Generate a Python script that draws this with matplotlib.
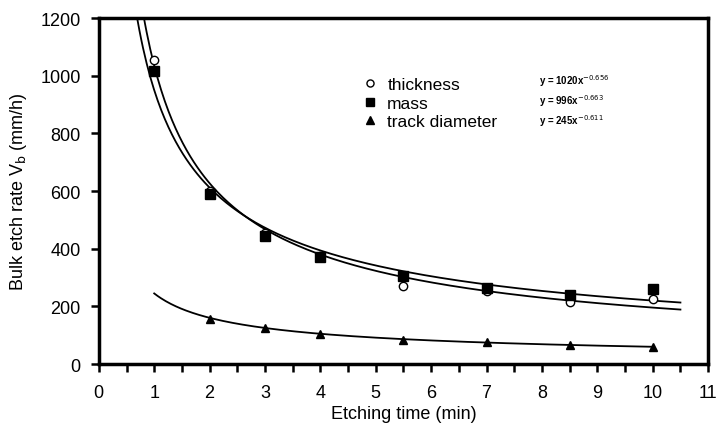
import numpy as np
import matplotlib
matplotlib.use("Agg")
import matplotlib.pyplot as plt

plt.rcParams['font.family'] = ['Liberation Sans', 'DejaVu Sans']

# data
time_pts = [1, 2, 3, 4, 5.5, 7, 8.5, 10]
thickness = [1055, 600, 455, 375, 270, 255, 215, 225]
mass = [1015, 590, 445, 370, 305, 265, 240, 260]
track_time = [2, 3, 4, 5.5, 7, 8.5, 10]
track = [155, 125, 105, 85, 75, 65, 60]

# power-law trendline coefficients (a, b): y = a * x^b
fit_thick = (1035, -0.723)
fit_mass = (950, -0.635)
fit_track = (245, -0.611)
fit_labels = ["y = 1020x$^{-0.656}$", "y = 996x$^{-0.663}$", "y = 245x$^{-0.611}$"]

fig = plt.figure(figsize=(7.16, 4.27), dpi=100)
ax = fig.add_axes([0.138, 0.145, 0.851, 0.8105])

xs = np.linspace(0.7, 10.5, 300)
for a, b in (fit_thick, fit_mass):
    ax.plot(xs, a * xs ** b, color='black', lw=1.3)
xt = np.linspace(1, 10, 300)
ax.plot(xt, fit_track[0] * xt ** fit_track[1], color='black', lw=1.3)

ax.plot(time_pts, thickness, 'o', mfc='white', mec='black', ms=6, mew=1.0, label='thickness')
ax.plot(time_pts, mass, 's', color='black', ms=7, label='mass')
ax.plot(track_time, track, '^', color='black', ms=6, label='track diameter')

ax.set_xlim(0, 11)
ax.set_ylim(0, 1200)
ax.set_xticks(range(0, 12))
ax.set_xticks(np.arange(0, 11.01, 0.5), minor=True)
ax.set_yticks(range(0, 1201, 200))
ax.tick_params(axis='both', which='both', direction='out', width=1.8, length=6, labelsize=13)
ax.tick_params(axis='x', which='major', pad=8)
ax.tick_params(axis='y', which='major', pad=7)
for s in ax.spines.values():
    s.set_linewidth(2.5)

ax.set_xlabel('Etching time (min)', fontsize=13, labelpad=3)
ax.set_ylabel('Bulk etch rate V$_\\mathrm{b}$ (mm/h)', fontsize=13, labelpad=8)

ax.legend(loc='upper left', bbox_to_anchor=(0.425, 0.85), frameon=False, fontsize=12.5,
          handlelength=0.6, handletextpad=0.7, labelspacing=0.2, borderaxespad=0,
          markerscale=0.85)

for i, t in enumerate(fit_labels):
    ax.text(0.722, 0.82 - i * 0.058, t, transform=ax.transAxes, fontsize=7,
            fontweight='bold', ha='left', va='center')

fig.savefig('out.png', dpi=100)
